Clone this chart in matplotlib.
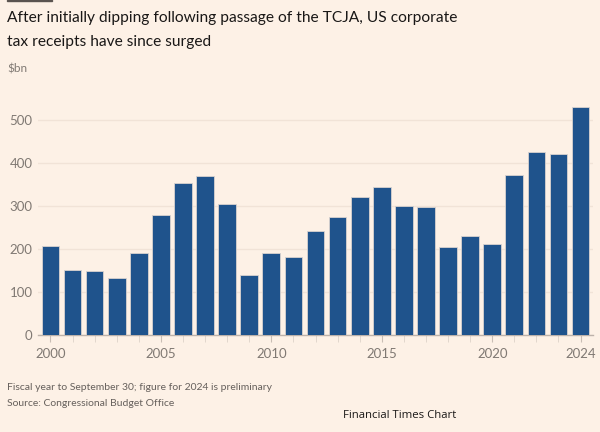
import matplotlib
matplotlib.use("Agg")
import matplotlib.pyplot as plt

# Data ($bn)
years = list(range(2000, 2025))
receipts = [207, 151, 148, 132, 190, 278, 354, 370, 305, 139, 191, 181,
            243, 274, 322, 344, 300, 298, 205, 231, 212, 372, 426, 420, 530]
tick_years = [2000, 2005, 2010, 2015, 2020, 2024]
y_ticks = [0, 100, 200, 300, 400, 500]

bg = "#fdf1e6"
bar_color = "#1f538c"
grey = "#807973"

plt.rcParams["font.family"] = ["Lato", "DejaVu Sans"]

fig = plt.figure(figsize=(6, 4.32), dpi=100, facecolor=bg)
W, H = 600, 432
# axes in pixel coords: left 38, right 593, bottom y=335, top for 540 units
ax_left, ax_right = 38.3, 592.7
ax_bottom = 335
ymax = 540
ax_top = ax_bottom - ymax * 0.43
ax = fig.add_axes([ax_left / W, 1 - ax_bottom / H,
                   (ax_right - ax_left) / W, (ax_bottom - ax_top) / H])
ax.set_facecolor(bg)

ax.bar(years, receipts, width=0.8, color=bar_color,
       edgecolor="#d9d3cf", linewidth=0.6, zorder=3)

ax.set_xlim(1999.45, 2024.55)
ax.set_ylim(0, ymax)
ax.set_yticks(y_ticks)
ax.yaxis.grid(True, color="#f1e3d7", linewidth=1, zorder=0)
ax.tick_params(axis="y", length=0, pad=4, labelsize=9.5, labelcolor=grey)

ax.set_xticks(years, minor=True)
ax.set_xticks(tick_years)
ax.tick_params(axis="x", which="both", length=5, color="#ddd2c9",
               labelsize=9.5, labelcolor=grey, pad=4)
ax.tick_params(axis="x", which="major", length=5, color="#c9beb5")

for side in ["top", "right", "left"]:
    ax.spines[side].set_visible(False)
ax.spines["bottom"].set_color("#bdb2aa")
ax.spines["bottom"].set_linewidth(1)

# FT accent bar at the top-left
fig.patches.append(plt.Rectangle((7 / W, 1 - 1.2 / H), 45 / W, 1.2 / H,
                                 transform=fig.transFigure, color="#5a5450"))

fig.text(7 / W, 1 - 18 / H,
         "After initially dipping following passage of the TCJA, US corporate",
         fontsize=11.2, color="#1a1817", va="center")
fig.text(7 / W, 1 - 42 / H, "tax receipts have since surged",
         fontsize=11.2, color="#1a1817", va="center")
fig.text(7 / W, 1 - 69 / H, "$bn", fontsize=8.5, color=grey, va="center")

fig.text(7 / W, 1 - 388 / H,
         "Fiscal year to September 30; figure for 2024 is preliminary",
         fontsize=7.5, color="#66605c", va="center")
fig.text(7 / W, 1 - 403 / H, "Source: Congressional Budget Office",
         fontsize=7.5, color="#66605c", va="center")
fig.text(343 / W, 1 - 416 / H, "Financial Times Chart",
         fontsize=8.2, color="#1a1817", va="center",
         family=["Open Sans", "DejaVu Sans"])

fig.savefig("out.png", dpi=100, facecolor=bg)
